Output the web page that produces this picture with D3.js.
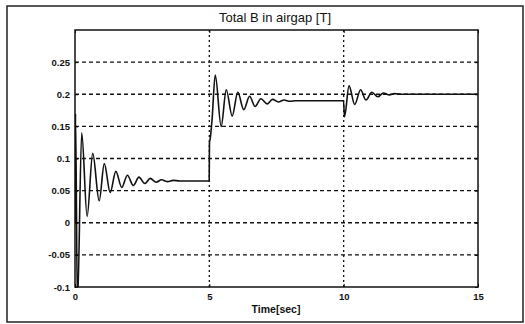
<!DOCTYPE html>
<html>
<head>
<meta charset="utf-8">
<script src="https://cdn.jsdelivr.net/npm/d3@7"></script>
<style>
  body { margin: 0; background: #fff; }
  text { font-family: "Liberation Sans", Arial, sans-serif; fill: #111; }
</style>
</head>
<body>
<div id="chart"></div>
<script>
// peaks and troughs of the flux trace
const times = [0, 0.02, 0.09, 0.25, 0.45, 0.66, 0.9, 1.09, 1.31, 1.52, 1.74, 1.95, 2.17, 2.38, 2.6, 2.8, 3.02, 3.22, 3.45, 3.65, 3.9, 4.995,
    5.005, 5.03, 5.1, 5.22, 5.44, 5.63, 5.85, 6.06, 6.28, 6.5, 6.7, 6.92, 7.15, 7.35, 7.57, 7.78, 8.0, 8.2, 9.995,
    10.03, 10.2, 10.41, 10.63, 10.83, 11.05, 11.27, 11.48, 11.7, 11.9, 12.2, 15];
const fluxB = [0, 0.17, -0.13, 0.14, 0.01, 0.108, 0.034, 0.092, 0.047, 0.08, 0.055, 0.074, 0.058, 0.071, 0.061, 0.069, 0.063, 0.067, 0.064, 0.066, 0.065, 0.065,
    0.125, 0.13, 0.16, 0.23, 0.15, 0.207, 0.166, 0.203, 0.176, 0.197, 0.181, 0.193, 0.185, 0.192, 0.188, 0.191, 0.189, 0.19, 0.19,
    0.165, 0.213, 0.184, 0.207, 0.191, 0.203, 0.196, 0.202, 0.199, 0.201, 0.2, 0.2];

const xTicks = [0, 5, 10, 15];
const yTicks = [-0.1, -0.05, 0, 0.05, 0.1, 0.15, 0.2, 0.25];
const yTickLabels = ["-0.1", "-0.05", "0", "0.05", "0.1", "0.15", "0.2", "0.25"];

const W = 525, H = 324;
const margin = { top: 30, right: 47, bottom: 37, left: 75 };
const width = W - margin.left - margin.right;
const height = H - margin.top - margin.bottom;

const root = d3.select("#chart").append("svg")
    .attr("width", W)
    .attr("height", H);

// outer figure frame
root.append("rect")
    .attr("x", 7).attr("y", 6)
    .attr("width", 516).attr("height", 316)
    .attr("fill", "none")
    .attr("stroke", "#222")
    .attr("stroke-width", 1.5);

const svg = root.append("g")
    .attr("transform", `translate(${margin.left}, ${margin.top})`);

const xScale = d3.scaleLinear().domain([0, 15]).range([0, width]);
const yScale = d3.scaleLinear().domain([-0.1, 0.3]).range([height, 0]);

// grid
svg.selectAll(".hgrid")
    .data(yTicks.filter(d => d > -0.1))
    .join("line")
    .attr("x1", 0).attr("x2", width)
    .attr("y1", d => yScale(d)).attr("y2", d => yScale(d))
    .attr("stroke", "#111")
    .attr("stroke-width", 1.3)
    .attr("stroke-dasharray", "4,3");

svg.selectAll(".vgrid")
    .data(xTicks.filter(d => d > 0 && d < 15))
    .join("line")
    .attr("x1", d => xScale(d)).attr("x2", d => xScale(d))
    .attr("y1", 0).attr("y2", height)
    .attr("stroke", "#111")
    .attr("stroke-width", 1.3)
    .attr("stroke-dasharray", "2,3");

// clip for the trace
svg.append("clipPath").attr("id", "plotclip")
    .append("rect").attr("width", width).attr("height", height);

const line = d3.line()
    .x((d, i) => xScale(times[i]))
    .y(d => yScale(d))
    .curve(d3.curveMonotoneX);

svg.append("path")
    .datum(fluxB)
    .attr("clip-path", "url(#plotclip)")
    .attr("fill", "none")
    .attr("stroke", "#111")
    .attr("stroke-width", 1.6)
    .attr("d", line);

// axes
svg.append("g")
    .attr("transform", `translate(0, ${height})`)
    .call(d3.axisBottom(xScale).tickValues(xTicks).tickSize(-3).tickPadding(6).tickFormat(d3.format("d")))
    .call(g => g.select(".domain").remove())
    .selectAll("text")
    .style("font-size", "9.5px")
    .style("font-weight", "bold");

svg.append("g")
    .call(d3.axisLeft(yScale).tickValues(yTicks).tickSize(-3).tickPadding(5).tickFormat((d, i) => yTickLabels[i]))
    .call(g => g.select(".domain").remove())
    .selectAll("text")
    .style("font-size", "9.5px")
    .style("font-weight", "bold");

svg.append("g")
    .attr("transform", `translate(${width}, 0)`)
    .call(d3.axisRight(yScale).tickValues(yTicks).tickSize(-3).tickFormat(""))
    .call(g => g.select(".domain").remove());

svg.append("g")
    .call(d3.axisTop(xScale).tickValues(xTicks).tickSize(-3).tickFormat(""))
    .call(g => g.select(".domain").remove());

// plot box
svg.append("rect")
    .attr("width", width).attr("height", height)
    .attr("fill", "none")
    .attr("stroke", "#111")
    .attr("stroke-width", 1.5);

// title and x label
root.append("text")
    .attr("x", 275)
    .attr("y", 22)
    .attr("text-anchor", "middle")
    .style("font-size", "13px")
    .text("Total B in airgap [T]");

root.append("text")
    .attr("x", 276)
    .attr("y", 313)
    .attr("text-anchor", "middle")
    .style("font-size", "10.5px")
    .style("font-weight", "bold")
    .text("Time[sec]");
</script>
</body>
</html>
